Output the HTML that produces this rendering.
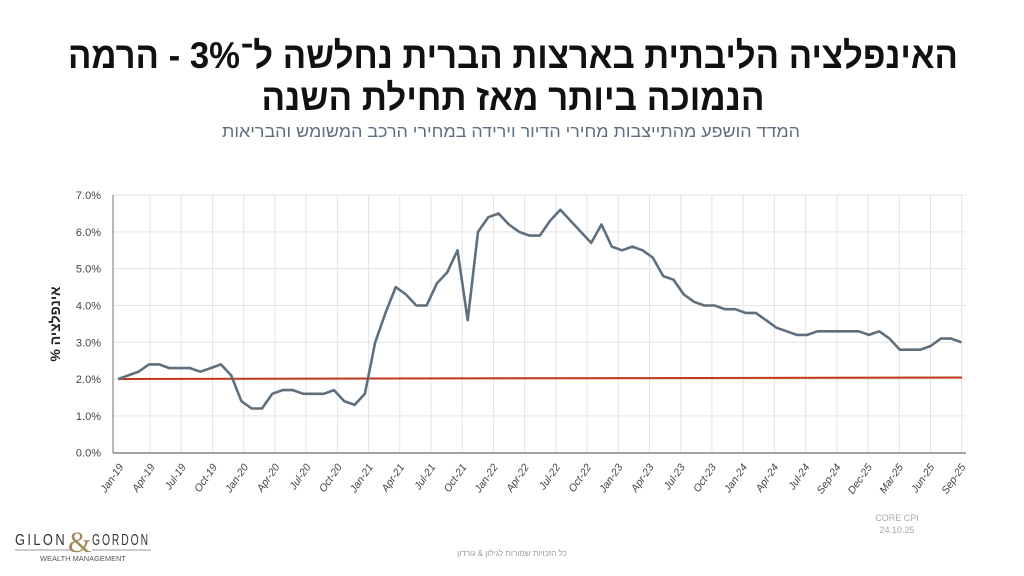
<!DOCTYPE html>
<html><head><meta charset="utf-8"><style>
html,body{margin:0;padding:0;background:#fff;width:1024px;height:576px;overflow:hidden}
</style></head><body>
<svg width="1024" height="576" xmlns="http://www.w3.org/2000/svg" font-family="Liberation Sans, DejaVu Sans, sans-serif">
<rect width="1024" height="576" fill="#fff"/>
<text x="513" y="68" text-anchor="middle" direction="rtl" font-size="37" font-weight="bold" fill="#111" textLength="890" lengthAdjust="spacingAndGlyphs">האינפלציה הליבתית בארצות הברית נחלשה ל־3% - הרמה</text>
<text x="513" y="110" text-anchor="middle" direction="rtl" font-size="37" font-weight="bold" fill="#111" textLength="503" lengthAdjust="spacingAndGlyphs">הנמוכה ביותר מאז תחילת השנה</text>
<text x="511" y="137" text-anchor="middle" direction="rtl" font-size="17" fill="#5e6e80" textLength="578" lengthAdjust="spacingAndGlyphs">המדד הושפע מהתייצבות מחירי הדיור וירידה במחירי הרכב המשומש והבריאות</text>
<g id="grid" stroke="#e4e4e4" stroke-width="1"></g>
<line x1="113" y1="195" x2="113" y2="453" stroke="#888" stroke-width="1.2"/>
<line x1="113" y1="453" x2="966" y2="453" stroke="#888" stroke-width="1.5"/>
<g id="ylab" font-size="11" fill="#444" text-anchor="end"></g>
<g id="xlab" font-size="10.5" fill="#444" font-style="italic"></g>
<text transform="translate(60,324) rotate(-90)" text-anchor="middle" direction="rtl" font-size="14" font-weight="bold" fill="#222">אינפלציה %</text>
<line x1="118" y1="379" x2="962" y2="377.5" stroke="#c0391b" stroke-width="2"/>
<polyline id="ser" fill="none" stroke="#5f6f7e" stroke-width="2.6" stroke-linejoin="round"/>
<text x="897" y="521" text-anchor="middle" font-size="9" fill="#aaa">CORE CPI</text>
<text x="897" y="533" text-anchor="middle" font-size="9" fill="#aaa">24.10.25</text>
<text x="512" y="556" text-anchor="middle" direction="rtl" font-size="8" fill="#999">כל הזכויות שמורות לגילון &amp; גורדון</text>
<text x="15" y="545" font-size="16" fill="#333" textLength="52" lengthAdjust="spacingAndGlyphs" letter-spacing="3">GILON</text>
<text x="68" y="552" font-size="30" fill="#a08a55" font-family="Liberation Serif, serif">&amp;</text>
<text x="92" y="545" font-size="16" fill="#333" textLength="58" lengthAdjust="spacingAndGlyphs" letter-spacing="3">GORDON</text>
<line x1="15" y1="550" x2="70" y2="550" stroke="#999"/>
<line x1="92" y1="550" x2="151" y2="550" stroke="#999"/>
<text x="83" y="561" text-anchor="middle" font-size="7.5" fill="#555" textLength="86" lengthAdjust="spacingAndGlyphs">WEALTH MANAGEMENT</text>
</svg>
<script>
const ns="http://www.w3.org/2000/svg";
const Y=v=>452.7-v*36.8;
const g=document.getElementById('grid');
for(let i=0;i<=7;i++){const l=document.createElementNS(ns,'line');l.setAttribute('x1',113);l.setAttribute('x2',966);l.setAttribute('y1',Y(i));l.setAttribute('y2',Y(i));g.appendChild(l);
const t=document.createElementNS(ns,'text');t.setAttribute('x',101);t.setAttribute('y',Y(i)+4);t.textContent=i.toFixed(1)+'%';document.getElementById('ylab').appendChild(t);}
for(let i=0;i<27;i++){const x=150+i*31.22;const l=document.createElementNS(ns,'line');l.setAttribute('x1',x);l.setAttribute('x2',x);l.setAttribute('y1',195);l.setAttribute('y2',453);g.appendChild(l);}
const L=["Jan-19","Apr-19","Jul-19","Oct-19","Jan-20","Apr-20","Jul-20","Oct-20","Jan-21","Apr-21","Jul-21","Oct-21","Jan-22","Apr-22","Jul-22","Oct-22","Jan-23","Apr-23","Jul-23","Oct-23","Jan-24","Apr-24","Jul-24","Sep-24","Dec-25","Mar-25","Jun-25","Sep-25"];
const xl=document.getElementById('xlab');
const n=L.length;
for(let i=0;i<n;i++){const x=124+i*(966-124)/(n-1);const t=document.createElementNS(ns,'text');t.setAttribute('text-anchor','end');t.setAttribute('transform',`translate(${x},467) rotate(-55)`);t.textContent=L[i];xl.appendChild(t);}
const d=[2.0,2.1,2.2,2.4,2.4,2.3,2.3,2.3,2.2,2.3,2.4,2.1,
1.4,1.2,1.2,1.6,1.7,1.7,1.6,1.6,1.6,1.7,1.4,1.3,
1.6,3.0,3.8,4.5,4.3,4.0,4.0,4.6,4.9,5.5,3.6,6.0,
6.4,6.5,6.2,6.0,5.9,5.9,6.3,6.6,6.3,6.0,5.7,6.2,
5.6,5.5,5.6,5.5,5.3,4.8,4.7,4.3,4.1,4.0,4.0,3.9,
3.9,3.8,3.8,3.6,3.4,3.3,3.2,3.2,3.3,3.3,3.3,3.3,
3.3,3.2,3.3,3.1,2.8,2.8,2.8,2.9,3.1,3.1,3.0];
const m=d.length;
document.getElementById('ser').setAttribute('points',d.map((v,i)=>(118+i*(961.5-118)/(m-1)).toFixed(1)+','+Y(v).toFixed(1)).join(' '));
</script>
</body></html>
